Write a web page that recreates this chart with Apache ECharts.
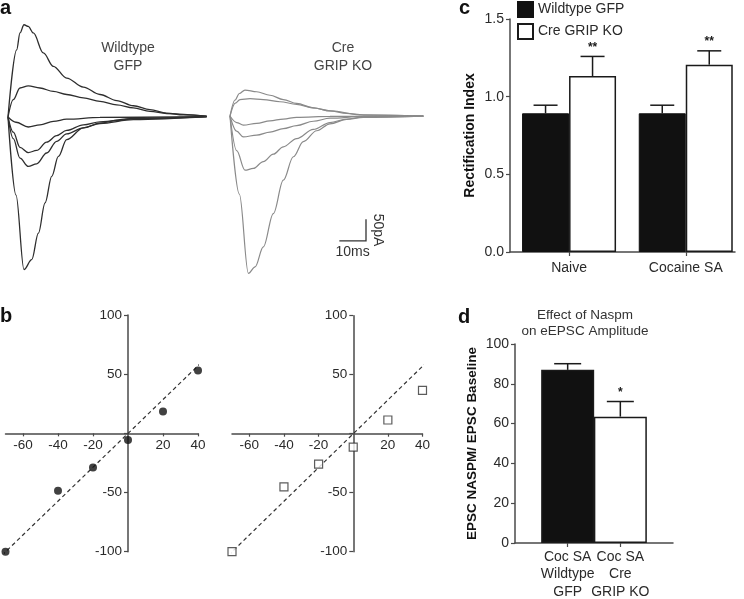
<!DOCTYPE html>
<html><head><meta charset="utf-8">
<script src="https://cdn.jsdelivr.net/npm/echarts@6/dist/echarts.min.js"></script>
<style>html,body{margin:0;padding:0;background:#fff}#c{width:744px;height:599px}</style>
</head><body><div id="c"></div>
<script>
// ---------- DATA ----------
// Panel a: EPSC traces, [time ms, current pA], holding potentials +40,+20,0,-20,-40,-70 mV
const wtTrace40  = [[0,0],[3.25,155],[4.5,194],[6,213],[7.6,209],[9.5,194],[13.25,148],[17,117],[22,90],[28.25,69],[34.5,52],[40.75,38],[47,26],[53.25,17],[59.5,9],[65.75,5],[74.5,2]];
const wtTrace20  = [[0,0],[2,40],[4.5,67],[7.6,72],[12,67],[17,59],[22,52],[28.25,44],[34.5,36],[40.75,28],[47,21],[53.25,13],[59.5,8],[74.5,2]];
const wtTrace0   = [[0,0],[3,-12],[7.6,-23],[12,-18],[17,-10],[22,-5],[34.5,-1],[74.5,1]];
const wtTraceM20 = [[0,0],[2,-35],[4.5,-70],[7.6,-82],[10.75,-77],[14.5,-58],[18.25,-43],[22,-31],[28.25,-18],[34.5,-11],[47,-3],[74.5,1]];
const wtTraceM40 = [[0,0],[2,-50],[4.5,-95],[7.6,-114],[10.75,-108],[14.5,-83],[18.25,-56],[22,-39],[28.25,-25],[34.5,-15],[47,-6],[74.5,1]];
const wtTraceM70 = [[0,0],[3,-180],[6,-352],[8.9,-329],[11.4,-268],[13.9,-198],[16.4,-137],[18.9,-91],[22,-52],[28.25,-25],[34.5,-14],[40.75,-8],[47,-4],[74.5,1]];
const koTrace40  = [[0,0],[1.9,37],[3.5,52],[5.6,60],[10,56],[15,48],[20,38],[25,29],[31.25,19],[37.5,12],[43.75,6],[50,3],[72.5,0]];
const koTrace20  = [[0,0],[2,30],[3.75,38],[7.5,40],[12.5,38],[18.75,33],[25,27],[31.25,19],[37.5,12],[50,2],[72.5,0]];
const koTrace0   = [[0,0],[2.5,-15],[5,-21],[10,-17],[15,-11],[20,-7],[25,-3],[37.5,-1],[72.5,0]];
const koTraceM20 = [[0,0],[2.5,-35],[5,-48],[10,-44],[15,-37],[20,-29],[25,-22],[31.25,-12],[37.5,-5],[50,-1],[72.5,0]];
const koTraceM40 = [[0,0],[2.5,-80],[5.6,-125],[8.75,-121],[12.5,-105],[16.25,-88],[20,-71],[25,-52],[31.25,-31],[37.5,-15],[43.75,-7],[50,-2],[72.5,0]];
const koTraceM70 = [[0,0],[3.5,-180],[6.9,-363],[9.4,-348],[12.5,-302],[16.25,-225],[20,-148],[23.75,-94],[27.5,-59],[32.5,-34],[37.5,-18],[43.75,-8],[50,-3],[72.5,0]];
const scaleBarMs = 10, scaleBarPA = 50;
const traceLabelWT = 'Wildtype\nGFP', traceLabelKO = 'Cre\nGRIP KO';

// Panel b: I-V (normalized)
const bVoltage  = [-70, -40, -20, 0, 20, 40];
const bWildtype = [-100, -48.6, -28.8, -5.6, 18.4, 53];
const bGripKO   = [-100, -45, -25.7, -11.3, 11.6, 36.7];
const bFitLine  = [[-72, -103], [42, 60]];
const bXLabels  = [-60, -40, -20, 20, 40];
const bYLabels  = [-100, -50, 50, 100];

// Panel c: Rectification index
const cCategories  = ['Naive', 'Cocaine SA'];
const cSeriesNames = ['Wildtype GFP', 'Cre GRIP KO'];
const cWildtype    = [0.893, 0.893];
const cWildtypeErr = [0.052, 0.052];
const cGripKO      = [1.133, 1.206];
const cGripKOErr   = [0.126, 0.089];
const cSigWT = ['', ''];
const cSigKO = ['**', '**'];

// Panel d: Naspm effect
const dCategories = ['Coc SA\nWildtype\nGFP', 'Coc SA\nCre\nGRIP KO'];
const dValues = [87, 63.5];
const dErr    = [3.1, 7.6];
const dSig    = ['', '*'];
const dTitle  = 'Effect of Naspm\non eEPSC Amplitude';
const dYName  = 'EPSC NASPM/ EPSC Baseline';
const cYName  = 'Rectification Index';

// ---------- CHART ----------
const FONT = '"Liberation Sans", Arial, Helvetica, sans-serif';
const AX = '#4a4a4a';
const TXT = '#2a2a2a';
const axLine = {lineStyle: {color: AX, width: 1.5}};

function traceSeries(data, grid, color, width) {
  return {type: 'line', xAxisIndex: grid, yAxisIndex: grid, data: data, showSymbol: false,
    smooth: 0.35, smoothMonotone: 'x', lineStyle: {color: color, width: width}, silent: true, z: 2};
}
const wtColor = '#2e2e2e', koColor = '#8a8a8a';

function errRender(side, barW, capW, sigArr) {
  return function (params, api) {
    const xv = api.value(0), yv = api.value(1), ev = api.value(2);
    const p = api.coord([xv, yv]);
    const t = api.coord([xv, yv + ev]);
    const cx = p[0] + side * barW / 2;
    const children = [
      {type: 'line', shape: {x1: cx, y1: p[1], x2: cx, y2: t[1]}, style: {stroke: '#1a1a1a', lineWidth: 1.5}},
      {type: 'line', shape: {x1: cx - capW / 2, y1: t[1], x2: cx + capW / 2, y2: t[1]}, style: {stroke: '#1a1a1a', lineWidth: 1.5}}
    ];
    const s = sigArr[params.dataIndex];
    if (s) children.push({type: 'text', x: cx, y: t[1] - 9,
      style: {text: s, fill: '#1a1a1a', font: 'bold 12px ' + FONT, textAlign: 'center', textVerticalAlign: 'middle'}});
    return {type: 'group', children: children};
  };
}

function bXAxis(grid, offset) {
  return {gridIndex: grid, type: 'value', min: -70, max: 40, position: 'bottom', offset: offset,
    axisLine: Object.assign({onZero: false}, axLine),
    axisTick: {customValues: [-60, -40, -20, 20, 40], length: 3, lineStyle: {color: AX, width: 1.2}},
    axisLabel: {customValues: bXLabels, fontSize: 13.5, color: TXT, margin: 5, hideOverlap: false}, splitLine: {show: false}};
}
function bYAxis(grid, offset) {
  return {gridIndex: grid, type: 'value', min: -100, max: 100, interval: 50, position: 'left', offset: offset,
    axisLine: Object.assign({onZero: false, show: true}, axLine),
    axisTick: {show: true, length: 4, lineStyle: {color: AX, width: 1.2}},
    axisLabel: {customValues: bYLabels, fontSize: 13.5, color: TXT, margin: 6, hideOverlap: false}, splitLine: {show: false}};
}
function dXAxis(idx, showLine) {
  return {gridIndex: 5, type: 'value', min: 0, max: 3, position: 'bottom', offset: 0,
    axisLine: Object.assign({show: showLine, onZero: false}, axLine),
    axisTick: {show: showLine, customValues: [1, 2], length: 4, lineStyle: {color: AX, width: 1.2}},
    axisLabel: {customValues: [idx + 1], formatter: v => dCategories[Math.round(v) - 1], fontSize: 14, lineHeight: 17.5,
      color: TXT, margin: 5, hideOverlap: false},
    splitLine: {show: false}};
}

const C_BAR_W = 47, D_BAR_W = 53;
const G = {outerBoundsMode: 'none', containLabel: false};

const option = {
  animation: false,
  backgroundColor: '#fff',
  textStyle: {fontFamily: FONT},
  legend: {
    data: cSeriesNames, orient: 'vertical', left: 517, top: 1, padding: 0, itemWidth: 15, itemHeight: 15, itemGap: 5,
    icon: 'rect', textStyle: {fontSize: 14, color: TXT, fontFamily: FONT}, selectedMode: false
  },
  grid: [
    Object.assign({left: 8, top: 21.7, width: 200, height: 260}, G),
    Object.assign({left: 230, top: 20.7, width: 200, height: 260}, G),
    Object.assign({left: 5.5, top: 315, width: 192.5, height: 236.7}, G),
    Object.assign({left: 232, top: 315.7, width: 190.5, height: 236}, G),
    Object.assign({left: 510, top: 19, width: 225, height: 233}, G),
    Object.assign({left: 515, top: 344, width: 158, height: 199}, G)
  ],
  xAxis: [
    {gridIndex: 0, type: 'value', min: 0, max: 75, show: false},
    {gridIndex: 1, type: 'value', min: 0, max: 75, show: false},
    bXAxis(2, -118.35),
    bXAxis(3, -118),
    {gridIndex: 4, type: 'value', min: 0.494, max: 2.422, axisLine: axLine,
      axisTick: {customValues: [1, 2], length: 4, lineStyle: {color: AX, width: 1.2}},
      axisLabel: {customValues: [1, 2], formatter: v => cCategories[Math.round(v) - 1], fontSize: 14, color: TXT, margin: 9, hideOverlap: false},
      splitLine: {show: false}},
    dXAxis(0, true),
    dXAxis(1, false)
  ],
  yAxis: [
    {gridIndex: 0, type: 'value', min: -380, max: 220, show: false},
    {gridIndex: 1, type: 'value', min: -380, max: 220, show: false},
    bYAxis(2, -122.5),
    bYAxis(3, -121.3),
    {gridIndex: 4, type: 'value', min: 0, max: 1.5, interval: 0.5, axisLine: Object.assign({show: true}, axLine),
      axisTick: {show: true, length: 4, lineStyle: {color: AX, width: 1.2}},
      axisLabel: {formatter: v => v.toFixed(1), fontSize: 14, color: TXT, margin: 6}, splitLine: {show: false},
      name: cYName, nameLocation: 'middle', nameGap: 33,
      nameTextStyle: {fontSize: 14, fontWeight: 'bold', color: '#111', fontFamily: FONT}},
    {gridIndex: 5, type: 'value', min: 0, max: 100, interval: 20, axisLine: Object.assign({show: true}, axLine),
      axisTick: {show: true, length: 4, lineStyle: {color: AX, width: 1.2}},
      axisLabel: {fontSize: 14, color: TXT, margin: 6}, splitLine: {show: false},
      name: dYName, nameLocation: 'middle', nameGap: 36,
      nameTextStyle: {fontSize: 13.5, fontWeight: 'bold', color: '#111', fontFamily: FONT}}
  ],
  series: [
    traceSeries(wtTrace40, 0, wtColor, 1.3),
    traceSeries(wtTrace20, 0, wtColor, 1.3),
    traceSeries(wtTrace0, 0, wtColor, 1.3),
    traceSeries(wtTraceM20, 0, wtColor, 1.3),
    traceSeries(wtTraceM40, 0, wtColor, 1.3),
    traceSeries(wtTraceM70, 0, wtColor, 1.3),
    traceSeries(koTrace40, 1, koColor, 1.2),
    traceSeries(koTrace20, 1, koColor, 1.2),
    traceSeries(koTrace0, 1, koColor, 1.2),
    traceSeries(koTraceM20, 1, koColor, 1.2),
    traceSeries(koTraceM40, 1, koColor, 1.2),
    traceSeries(koTraceM70, 1, koColor, 1.2),
    // scale bar
    {type: 'custom', xAxisIndex: 1, yAxisIndex: 1, data: [[scaleBarMs, scaleBarPA]], silent: true,
      renderItem: function (params, api) {
        const t0 = 51, i0 = -288;
        const o = api.coord([t0, i0]);
        const v = api.coord([t0, i0 + api.value(1)]);
        const h = api.coord([t0 - api.value(0), i0]);
        return {type: 'group', children: [
          {type: 'polyline', shape: {points: [v, o, h]}, style: {stroke: '#333', lineWidth: 1.3, fill: null}},
          {type: 'text', x: o[0] + 12, y: (o[1] + v[1]) / 2, rotation: -Math.PI / 2,
            style: {text: api.value(1) + 'pA', fill: '#333', font: '14px ' + FONT, textAlign: 'center', textVerticalAlign: 'middle'}},
          {type: 'text', x: (o[0] + h[0]) / 2, y: o[1] + 11.5,
            style: {text: api.value(0) + 'ms', fill: '#333', font: '14px ' + FONT, textAlign: 'center', textVerticalAlign: 'middle'}}
        ]};
      }},
    // panel b left
    {type: 'line', xAxisIndex: 2, yAxisIndex: 2, data: bFitLine, showSymbol: false, clip: false, silent: true,
      lineStyle: {color: '#333', width: 1.2, type: [4, 3]}},
    {type: 'scatter', xAxisIndex: 2, yAxisIndex: 2, data: bVoltage.map((v, i) => [v, bWildtype[i]]), clip: false,
      symbol: 'circle', symbolSize: 8, itemStyle: {color: '#111'}, z: 4},
    // panel b right
    {type: 'line', xAxisIndex: 3, yAxisIndex: 3, data: bFitLine, showSymbol: false, clip: false, silent: true,
      lineStyle: {color: '#333', width: 1.2, type: [4, 3]}},
    {type: 'scatter', xAxisIndex: 3, yAxisIndex: 3, data: bVoltage.map((v, i) => [v, bGripKO[i]]), clip: false,
      symbol: 'rect', symbolSize: 8, itemStyle: {color: '#fff', borderColor: '#333', borderWidth: 1.2}, z: 4},
    // panel c bars
    {type: 'bar', name: cSeriesNames[0], xAxisIndex: 4, yAxisIndex: 4, barWidth: C_BAR_W, barGap: '0%',
      data: cWildtype.map((v, i) => [i + 1, v]), itemStyle: {color: '#111', borderColor: '#111', borderWidth: 1}},
    {type: 'bar', name: cSeriesNames[1], xAxisIndex: 4, yAxisIndex: 4, barWidth: C_BAR_W, barGap: '0%',
      data: cGripKO.map((v, i) => [i + 1, v]), itemStyle: {color: '#fff', borderColor: '#1a1a1a', borderWidth: 1.5}},
    {type: 'custom', xAxisIndex: 4, yAxisIndex: 4, z: 5, silent: true,
      data: cWildtype.map((v, i) => [i + 1, v, cWildtypeErr[i]]), renderItem: errRender(-1, C_BAR_W, 24, cSigWT)},
    {type: 'custom', xAxisIndex: 4, yAxisIndex: 4, z: 5, silent: true,
      data: cGripKO.map((v, i) => [i + 1, v, cGripKOErr[i]]), renderItem: errRender(1, C_BAR_W, 24, cSigKO)},
    // panel d bars
    {type: 'bar', xAxisIndex: 5, yAxisIndex: 5, barWidth: D_BAR_W,
      data: dValues.map((v, i) => ({value: [i + 1, v], itemStyle: {color: i === 0 ? '#111' : '#fff'}})),
      itemStyle: {borderColor: '#1a1a1a', borderWidth: 1.5}},
    {type: 'custom', xAxisIndex: 5, yAxisIndex: 5, z: 5, silent: true,
      data: dValues.map((v, i) => [i + 1, v, dErr[i]]), renderItem: errRender(0, D_BAR_W, 27, dSig)}
  ],
  graphic: [
    {type: 'text', x: 0, y: 8, style: {text: 'a', font: 'bold 20px ' + FONT, fill: '#111', textVerticalAlign: 'middle'}},
    {type: 'text', x: 0, y: 316, style: {text: 'b', font: 'bold 20px ' + FONT, fill: '#111', textVerticalAlign: 'middle'}},
    {type: 'text', x: 459, y: 8, style: {text: 'c', font: 'bold 20px ' + FONT, fill: '#111', textVerticalAlign: 'middle'}},
    {type: 'text', x: 458, y: 317, style: {text: 'd', font: 'bold 20px ' + FONT, fill: '#111', textVerticalAlign: 'middle'}},
    {type: 'text', x: 128, y: 39, style: {text: traceLabelWT, font: '14px ' + FONT, lineHeight: 18, fill: '#444', textAlign: 'center', textVerticalAlign: 'top'}},
    {type: 'text', x: 343, y: 39, style: {text: traceLabelKO, font: '14px ' + FONT, lineHeight: 18, fill: '#444', textAlign: 'center', textVerticalAlign: 'top'}},
    {type: 'text', x: 585, y: 307, style: {text: dTitle, font: '13.5px ' + FONT, lineHeight: 16, fill: '#333', textAlign: 'center', textVerticalAlign: 'top'}}
  ]
};

const chart = echarts.init(document.getElementById('c'), null, {renderer: 'canvas'});
chart.setOption(option);
</script>
</body></html>
